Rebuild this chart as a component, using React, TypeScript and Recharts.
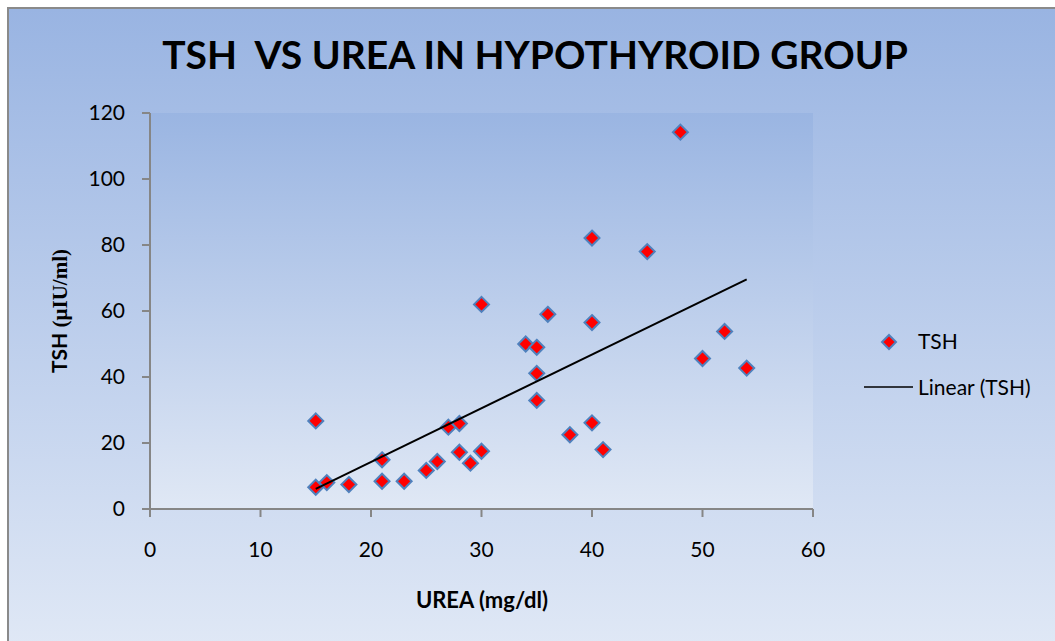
import { ScatterChart, Scatter, XAxis, YAxis, CartesianGrid, Legend } from 'recharts';

// values
const urea = [15, 15, 16, 18, 21, 21, 23, 25, 26, 27, 28, 28, 29, 30, 30, 34, 35, 35, 35, 36, 38, 40, 40, 40, 41, 45, 48, 50, 52, 54];
const tsh = [6.6, 26.7, 8.0, 7.4, 14.9, 8.4, 8.4, 11.7, 14.4, 24.8, 25.9, 17.2, 13.9, 17.5, 62.0, 50.0, 49.0, 41.1, 32.9, 59.0, 22.5, 82.1, 56.5, 26.1, 18.0, 78.0, 114.2, 45.6, 53.8, 42.7];

// linear trendline end points
const trendUrea = [15, 54];
const trendTsh = [6.1, 69.6];

const xTicks = [0, 10, 20, 30, 40, 50, 60];
const yTicks = [0, 20, 40, 60, 80, 100, 120];

const points = urea.map((u, i) => ({ urea: u, tsh: tsh[i] }));
const trend = trendUrea.map((u, i) => ({ urea: u, tsh: trendTsh[i] }));

const FONT = 'Lato, "Open Sans", sans-serif';
const AXIS = '#868686';

function Diamond(props: any) {
  const { cx, cy } = props;
  if (cx == null || cy == null) return <g />;
  const r = 7.5;
  return (
    <polygon
      points={`${cx},${cy - r} ${cx + r},${cy} ${cx},${cy + r} ${cx - r},${cy}`}
      fill="#FF0000"
      stroke="#4F81BD"
      strokeWidth={2}
    />
  );
}

function LegendBox(props: any) {
  const payload = props.payload || [];
  const marker = payload.find((p: any) => p.value === 'TSH');
  const fit = payload.find((p: any) => p.value !== 'TSH');
  return (
    <svg width={200} height={90} style={{ display: 'block' }}>
      {marker && (
        <g>
          <polygon points="34,15 41,22 34,29 27,22" fill="#FF0000" stroke="#4F81BD" strokeWidth={2} />
          <text x={63} y={29} fontFamily={FONT} fontSize={21} fill="#000">{marker.value}</text>
        </g>
      )}
      {fit && (
        <g>
          <line x1={9} x2={58} y1={67} y2={67} stroke="#000" strokeWidth={1.5} />
          <text x={63} y={75} fontFamily={FONT} fontSize={21} fill="#000">{fit.value}</text>
        </g>
      )}
    </svg>
  );
}

export default function App() {
  return (
    <div style={{ position: 'fixed', left: 0, top: 0, width: 1055, height: 641, overflow: 'hidden', background: '#fff' }}>
      <div
        style={{
          position: 'absolute',
          left: 7,
          top: 7,
          width: 1060,
          height: 650,
          borderLeft: '2px solid #8a8a8a',
          borderTop: '2px solid #8a8a8a',
          background: 'linear-gradient(to bottom, #99B4E2 0%, #E1E9F6 100%)',
        }}
      />
      <svg width={0} height={0} style={{ position: 'absolute' }}>
        <defs>
          <linearGradient id="plotBg" x1="0" y1="0" x2="0" y2="1">
            <stop offset="0%" stopColor="#9AB5E2" />
            <stop offset="100%" stopColor="#E0E8F5" />
          </linearGradient>
        </defs>
      </svg>
      <div style={{ position: 'absolute', left: 0, top: 0 }}>
        <ScatterChart width={1055} height={641} margin={{ top: 113, right: 242, bottom: 72, left: 90 }}>
          <CartesianGrid horizontal={false} vertical={false} fill="url(#plotBg)" fillOpacity={1} stroke="none" />
          <XAxis
            type="number"
            dataKey="urea"
            domain={[0, 60]}
            ticks={xTicks}
            height={60}
            axisLine={{ stroke: AXIS, strokeWidth: 2 }}
            tickLine={{ stroke: AXIS, strokeWidth: 2 }}
            tickSize={8}
            tickMargin={25}
            tick={{ fill: '#000', fontSize: 21, fontFamily: FONT }}
          />
          <YAxis
            type="number"
            dataKey="tsh"
            domain={[0, 120]}
            ticks={yTicks}
            width={60}
            axisLine={{ stroke: AXIS, strokeWidth: 2 }}
            tickLine={{ stroke: AXIS, strokeWidth: 2 }}
            tickSize={8}
            tickMargin={17}
            tick={{ fill: '#000', fontSize: 21, fontFamily: FONT }}
          />
          <Legend
            layout="vertical"
            align="center"
            verticalAlign="middle"
            content={<LegendBox />}
            wrapperStyle={{ position: 'absolute', left: 855, top: 320, width: 200, height: 90 }}
          />
          <Scatter name="TSH" data={points} shape={<Diamond />} isAnimationActive={false} />
          <Scatter
            name="Linear (TSH)"
            data={trend}
            line={{ stroke: '#000', strokeWidth: 2 }}
            shape={() => <g />}
            isAnimationActive={false}
          />
        </ScatterChart>
      </div>
      <svg width={1055} height={641} style={{ position: 'absolute', left: 0, top: 0, pointerEvents: 'none' }}>
        <text x={535} y={69} textAnchor="middle" fontFamily={FONT} fontWeight="bold" fontSize={39} fill="#000" style={{ whiteSpace: 'pre' }}>
          TSH  VS UREA IN HYPOTHYROID GROUP
        </text>
        <text x={482} y={608} textAnchor="middle" fontFamily={FONT} fontWeight="bold" fontSize={22} fill="#000">
          UREA (mg/dl)
        </text>
        <text transform="rotate(-90)" x={-311} y={67} textAnchor="middle" fontWeight="bold" fontSize={21} fill="#000">
          <tspan fontFamily={FONT}>TSH </tspan>
          <tspan fontFamily='"Liberation Serif", serif'>(µIU/ml)</tspan>
        </text>
      </svg>
    </div>
  );
}
